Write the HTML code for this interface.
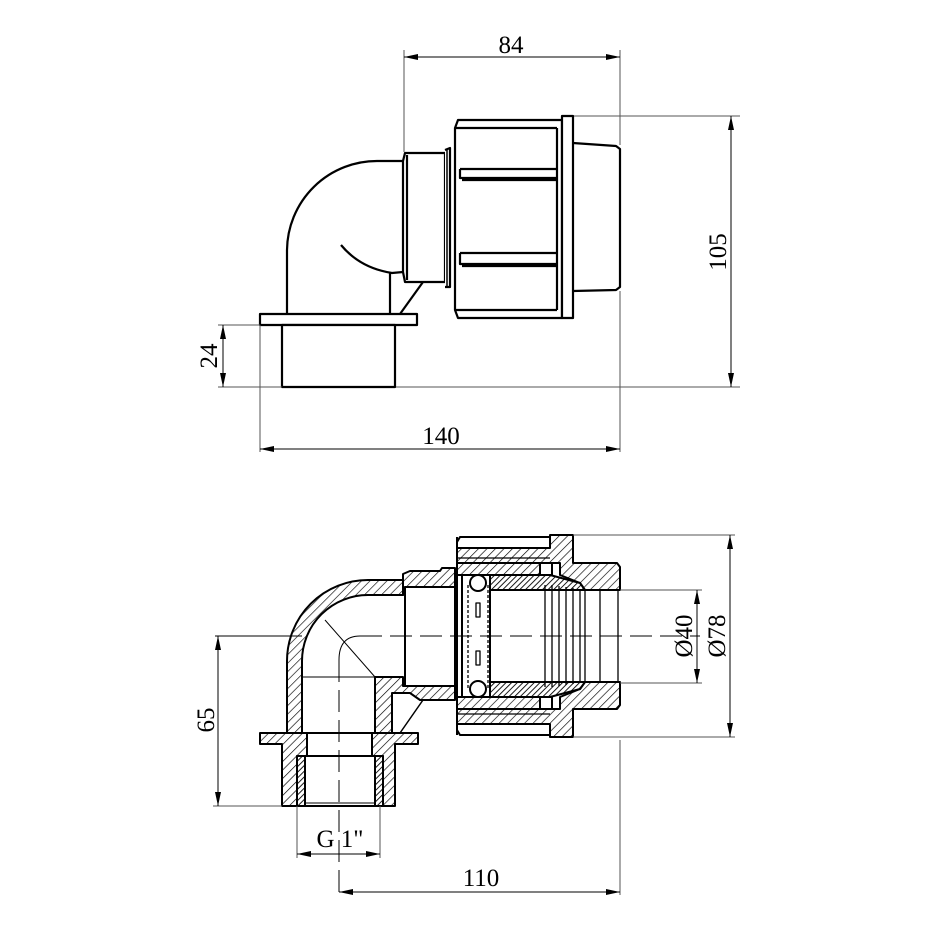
<!DOCTYPE html>
<html><head><meta charset="utf-8"><style>
html,body{margin:0;padding:0;background:#fff;}
svg{display:block;}
text{font-family:"Liberation Serif",serif;font-size:25px;fill:#000;}
</style></head><body>
<svg width="930" height="930" viewBox="0 0 930 930" xmlns="http://www.w3.org/2000/svg">
<defs>
<pattern id="h" patternUnits="userSpaceOnUse" width="6" height="6" patternTransform="rotate(45)">
<rect width="6" height="6" fill="#fff"/><line x1="0" y1="0" x2="0" y2="6" stroke="#000" stroke-width="1.3"/></pattern>
<pattern id="hd" patternUnits="userSpaceOnUse" width="4" height="4" patternTransform="rotate(45)">
<rect width="4" height="4" fill="#fff"/><line x1="0" y1="0" x2="0" y2="4" stroke="#000" stroke-width="1.8"/></pattern>
<marker id="a" viewBox="0 0 14 6" refX="14" refY="3" markerWidth="14" markerHeight="6" markerUnits="userSpaceOnUse" orient="auto-start-reverse"><path d="M0,0L14,3L0,6z" fill="#000"/></marker>
</defs>

<!-- ============ TOP VIEW ============ -->
<g stroke="#000" stroke-width="2.2" fill="none" stroke-linejoin="round">
<path d="M403,161 L378,161 A90,90 0 0 0 287,250 L287,314"/>
<path d="M341,245 Q360,268 392,273 L403,272"/>
<path d="M390,273 L390,314"/>
<path d="M423,282 L400,314"/>
<path d="M403,161 L405,153 L445,153 L445,282 L405,282 L403,272 Z" fill="#fff"/>
<line x1="407" y1="155" x2="407" y2="280"/>
<path d="M445,150 L450,148 L450,287 L445,287" fill="#fff"/>
<line x1="447" y1="150" x2="447" y2="286" stroke-width="1.5"/>
<path d="M455,128 L458,120 L562,120 L562,318 L458,318 L455,310 Z" fill="#fff"/>
<line x1="455" y1="128" x2="557" y2="128"/>
<line x1="455" y1="310" x2="557" y2="310"/>
<line x1="557" y1="128" x2="557" y2="310"/>
<path d="M460,169 L557,169 M460,169 L460,178 L557,178 M462,180 L557,180"/>
<path d="M460,253 L557,253 M460,253 L460,264 L557,264 M462,266 L557,266"/>
<rect x="562" y="116" width="11" height="202" fill="#fff"/>
<path d="M573,143 L616,146 L620,149 L620,287 L616,290 L573,291"/>
<rect x="260" y="314" width="157" height="11" fill="#fff"/>
<rect x="282" y="325" width="113" height="62" fill="#fff"/>
</g>
<g stroke="#555" stroke-width="1" fill="none">
<line x1="404" y1="50" x2="404" y2="152"/>
<line x1="620" y1="50" x2="620" y2="145"/>
<line x1="404" y1="57" x2="620" y2="57" stroke="#000" marker-start="url(#a)" marker-end="url(#a)"/>
<line x1="574" y1="116" x2="740" y2="116"/>
<line x1="396" y1="387" x2="740" y2="387"/>
<line x1="731" y1="116" x2="731" y2="387" stroke="#000" marker-start="url(#a)" marker-end="url(#a)"/>
<line x1="218" y1="325" x2="260" y2="325"/>
<line x1="218" y1="387" x2="282" y2="387"/>
<line x1="223" y1="325" x2="223" y2="387" stroke="#000" marker-start="url(#a)" marker-end="url(#a)"/>
<line x1="260" y1="325" x2="260" y2="452"/>
<line x1="620" y1="291" x2="620" y2="452"/>
<line x1="260" y1="449" x2="620" y2="449" stroke="#000" marker-start="url(#a)" marker-end="url(#a)"/>
</g>
<text x="511" y="53" text-anchor="middle">84</text>
<text x="441" y="444" text-anchor="middle">140</text>
<text transform="translate(726,252) rotate(-90)" text-anchor="middle">105</text>
<text transform="translate(217,356) rotate(-90)" text-anchor="middle">24</text>

<!-- ============ BOTTOM VIEW ============ -->
<g stroke="#000" stroke-width="2" stroke-linejoin="round">
<path d="M403,580 L368,580 A81,81 0 0 0 287,661 L287,733 L302,733 L302,661 A66,66 0 0 1 368,595 L403,595 Z" fill="url(#h)"/>
<path d="M375,677 L403,677 L403,686 L455,686 L455,700 L420,700 L410,693 L392,693 L392,733 L375,733 Z" fill="url(#h)"/>
<path d="M403,580 L403,574 L410,571 L440,571 L442,568 L455,568 L455,587 L405,587 L403,595 Z" fill="url(#h)"/>
<rect x="405" y="587" width="50" height="99" fill="#fff"/>
<line x1="400" y1="733" x2="423" y2="700" stroke-width="1.5"/>
<path d="M260,733 L307,733 L307,756 L297,756 L297,806 L282,806 L282,744 L260,744 Z" fill="url(#h)"/>
<path d="M418,733 L372,733 L372,756 L383,756 L383,806 L395,806 L395,744 L418,744 Z" fill="url(#h)"/>
<rect x="297" y="756" width="8" height="50" fill="url(#hd)"/>
<rect x="375" y="756" width="8" height="50" fill="url(#hd)"/>
<line x1="307" y1="733" x2="372" y2="733"/>
<line x1="305" y1="756" x2="375" y2="756"/>
<line x1="297" y1="806" x2="383" y2="806"/>
<line x1="305" y1="803" x2="375" y2="803" stroke-width="1"/>
<!-- nut outer -->
<path d="M457,548 L457,542 L460,537 L550,537 L550,548 Z" fill="#fff"/>
<path d="M457,724 L457,730 L460,735 L550,735 L550,724 Z" fill="#fff"/>
<path d="M457,548 L550,548 L550,535 L573,535 L573,563 L617,563 L620,567 L620,590 L585,590 L580,583 L560,575 L560,563 L457,563 Z" fill="url(#h)"/>
<path d="M457,724 L550,724 L550,737 L573,737 L573,709 L617,709 L620,705 L620,682 L585,682 L580,689 L560,697 L560,709 L457,709 Z" fill="url(#h)"/>
<line x1="457" y1="558" x2="550" y2="558" stroke-width="1.3"/>
<line x1="457" y1="714" x2="550" y2="714" stroke-width="1.3"/>
<path d="M457,563 L540,563 L540,575 L457,575 Z" fill="url(#h)"/>
<path d="M457,709 L540,709 L540,697 L457,697 Z" fill="url(#h)"/>
<line x1="457" y1="537" x2="457" y2="735"/>
<line x1="462" y1="575" x2="462" y2="697"/>
<path d="M490,575 L550,575 L580,583 L585,590 L490,590 Z" fill="url(#hd)"/>
<path d="M490,697 L550,697 L580,689 L585,682 L490,682 Z" fill="url(#hd)"/>
<rect x="540" y="563" width="12" height="12" fill="#fff"/>
<rect x="540" y="697" width="12" height="12" fill="#fff"/>
<line x1="490" y1="590" x2="490" y2="682"/>
<g stroke-width="1.3" fill="none">
<line x1="545" y1="585" x2="545" y2="687"/><line x1="552" y1="585" x2="552" y2="687"/>
<line x1="559" y1="586" x2="559" y2="686"/><line x1="566" y1="587" x2="566" y2="685"/>
<line x1="573" y1="588" x2="573" y2="684"/><line x1="580" y1="589" x2="580" y2="683"/>
<line x1="585" y1="590" x2="585" y2="682"/>
<line x1="600" y1="590" x2="600" y2="682"/>
<line x1="618" y1="590" x2="618" y2="682"/>
<line x1="468" y1="585" x2="468" y2="688" stroke-dasharray="3,2"/>
<line x1="488" y1="585" x2="488" y2="688" stroke-dasharray="3,2"/>
</g>
<circle cx="478" cy="583" r="8" fill="#fff"/>
<circle cx="478" cy="689" r="8" fill="#fff"/>
<rect x="476" y="603" width="4" height="14" fill="#fff" stroke-width="1.3"/>
<rect x="476" y="651" width="4" height="14" fill="#fff" stroke-width="1.3"/>
</g>
<g stroke="#000" stroke-width="1" fill="none">
<line x1="302" y1="677" x2="375" y2="677"/>
<line x1="325" y1="620" x2="375" y2="677"/>
<line x1="215" y1="636" x2="302" y2="636"/>
<path d="M360,636 Q339,636 339,660" />
<line x1="360" y1="636" x2="700" y2="636" stroke-dasharray="22,8"/>
<line x1="339" y1="660" x2="339" y2="895" stroke-dasharray="22,8"/>
</g>
<g stroke="#555" stroke-width="1" fill="none">
<line x1="213" y1="806" x2="282" y2="806"/>
<line x1="218" y1="636" x2="218" y2="806" stroke="#000" marker-start="url(#a)" marker-end="url(#a)"/>
<line x1="620" y1="590" x2="702" y2="590"/>
<line x1="620" y1="683" x2="702" y2="683"/>
<line x1="697" y1="590" x2="697" y2="683" stroke="#000" marker-start="url(#a)" marker-end="url(#a)"/>
<line x1="573" y1="535" x2="735" y2="535"/>
<line x1="573" y1="737" x2="735" y2="737"/>
<line x1="730" y1="535" x2="730" y2="737" stroke="#000" marker-start="url(#a)" marker-end="url(#a)"/>
<line x1="297" y1="806" x2="297" y2="858"/>
<line x1="380" y1="806" x2="380" y2="858"/>
<line x1="297" y1="854" x2="380" y2="854" stroke="#000" marker-start="url(#a)" marker-end="url(#a)"/>
<line x1="620" y1="740" x2="620" y2="895"/>
<line x1="339" y1="892" x2="620" y2="892" stroke="#000" marker-start="url(#a)" marker-end="url(#a)"/>
</g>
<text x="340" y="847" text-anchor="middle">G 1"</text>
<text x="481" y="886" text-anchor="middle">110</text>
<text transform="translate(214,720) rotate(-90)" text-anchor="middle">65</text>
<text transform="translate(692,636) rotate(-90)" text-anchor="middle">Ø40</text>
<text transform="translate(725,636) rotate(-90)" text-anchor="middle">Ø78</text>
</svg>
</body></html>
